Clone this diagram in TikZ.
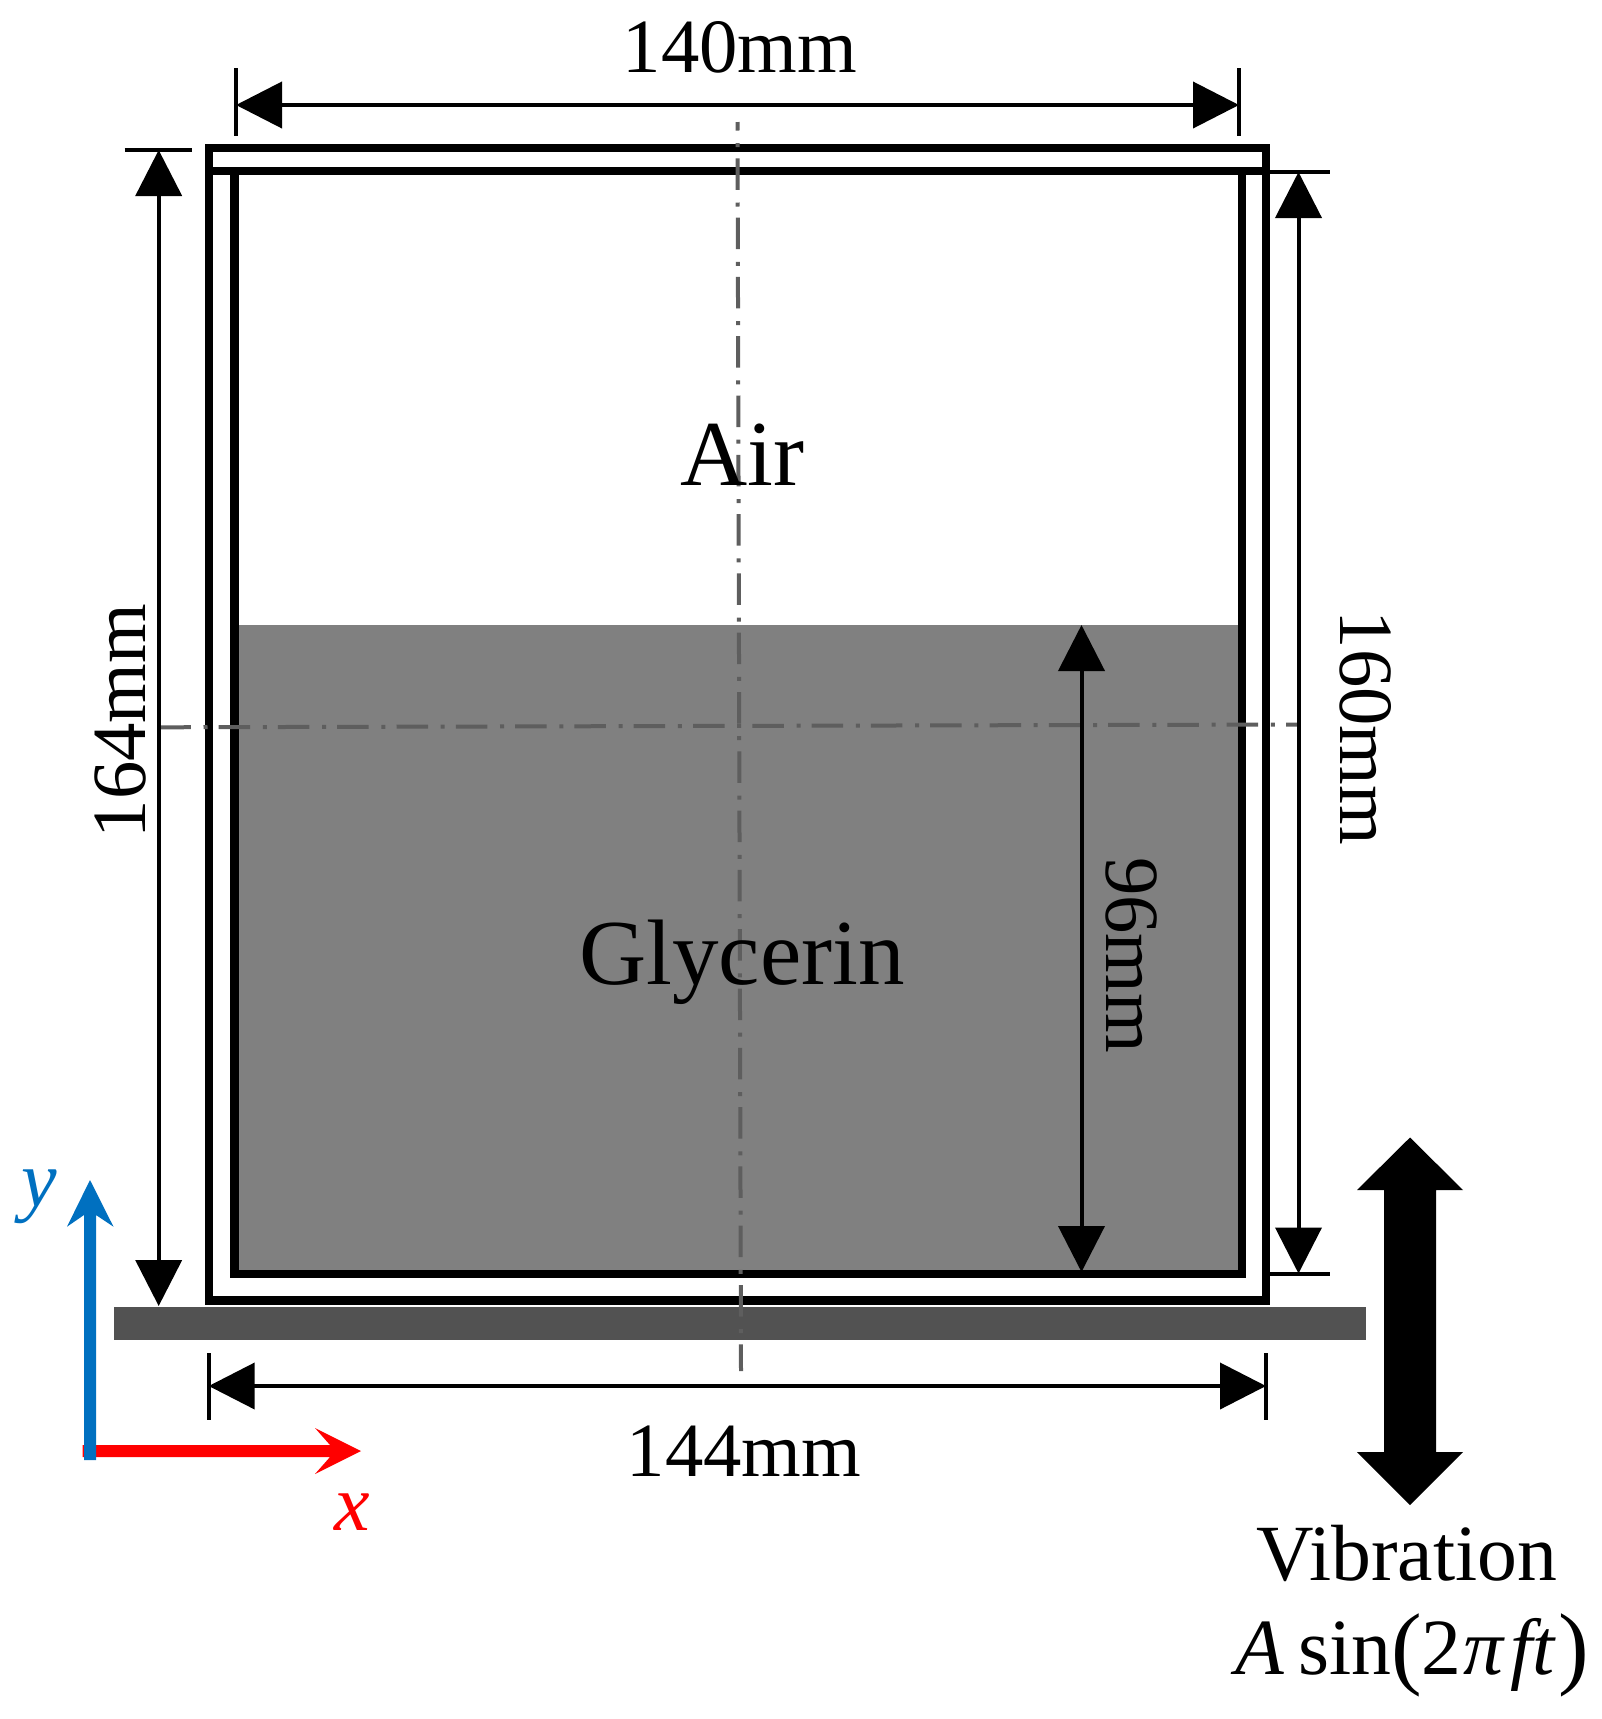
\documentclass[tikz,border=0pt]{standalone}
\usepackage{fontspec}
\setmainfont{Liberation Serif}
\usetikzlibrary{arrows.meta}
\definecolor{axisblue}{HTML}{0070C0}
\definecolor{centerline}{HTML}{5E5E5E}
\definecolor{fluid}{HTML}{808080}
\definecolor{plate}{HTML}{525252}
\newcommand{\bigparen}[1]{\raisebox{-3pt}{\fontsize{92}{96}\selectfont #1}}
\tikzset{
  wall/.style={draw=black,line width=8.4pt,fill=none,line join=miter},
  dimline/.style={draw=black,line width=4pt,{Triangle[length=46pt,width=46pt]}-{Triangle[length=46pt,width=46pt]}},
  tick/.style={draw=black,line width=4pt},
  axisline/.style={draw=centerline,line width=4pt,dash pattern=on 31.5pt off 12.7pt on 4pt off 11.1pt},
  lab/.style={inner sep=0pt,outer sep=0pt,anchor=base,font=\fontsize{76.7}{80}\selectfont},
  big/.style={lab,font=\fontsize{93}{98}\selectfont},
  vib/.style={lab,font=\fontsize{79.7}{84}\selectfont},
  coordlab/.style={lab,font=\fontsize{80}{84}\selectfont},
}
\begin{document}
\begin{tikzpicture}[x=1pt,y=-1pt]
\useasboundingbox (0,0) rectangle (1602,1719);
% fluid and plate
\fill[fluid] (238,625) rectangle (1238,1270);
\fill[plate] (113.5,1307) rectangle (1365.5,1340);
% walls
\draw[wall] (209,148) rectangle (1266,1300.5);
\draw[wall] (234.5,171) rectangle (1241.7,1274);
\draw[wall] (209,171) -- (1266,171);
% centre lines
\coordinate (vt) at (737.5,122);
\coordinate (vb) at (741,1371);
\coordinate (hl) at (159.3,727.3);
\coordinate (hr) at (1299,724.5);
\draw[axisline,dash phase=23pt] (vt) -- (vb);
\draw[axisline] (hl) -- (hr);
% dimension coordinates
\coordinate (ttl) at (236,105);
\coordinate (ttr) at (1239,105);
\coordinate (ltop) at (158.7,150);
\coordinate (lbot) at (158.7,1306);
\coordinate (rtop) at (1298.5,172);
\coordinate (rbot) at (1298.5,1273.5);
\coordinate (gtop) at (1081.5,625);
\coordinate (gbot) at (1081.5,1272);
\coordinate (bl) at (208.7,1386);
\coordinate (br) at (1266,1386);
\draw[tick] (236,68) -- (236,135.5);
\draw[tick] (1239,68) -- (1239,135.5);
\draw[tick] (124.7,150) -- (191.7,150);
\draw[tick] (1270,172) -- (1329.5,172);
\draw[tick] (1270,1273.5) -- (1330,1273.5);
\draw[tick] (208.7,1353) -- (208.7,1420);
\draw[tick] (1266,1353) -- (1266,1420);
\draw[dimline] (ttl) -- (ttr);
\draw[dimline] (ltop) -- (lbot);
\draw[dimline] (rtop) -- (rbot);
\draw[dimline] (gtop) -- (gbot);
\draw[dimline] (bl) -- (br);
% vibration arrow
\fill[black] (1410,1137.5) -- (1463,1190) -- (1436,1190) -- (1436,1452) -- (1463,1452) -- (1410,1505) -- (1357,1452) -- (1384,1452) -- (1384,1190) -- (1357,1190) -- cycle;
% axes
\fill[red] (82.5,1445) -- (330,1445) -- (315,1428) -- (361,1451) -- (315,1474) -- (330,1457) -- (82.5,1457) -- cycle;
\fill[axisblue] (84,1460) -- (84,1215) -- (67,1226.7) -- (90,1180) -- (113.5,1226.7) -- (96,1215) -- (96,1460) -- cycle;
% labels
\node[lab] (l140) at (740,72) {140mm};
\node[big] (lair) at (742,485) {Air};
\node[big] (lgly) at (742,984) {Glycerin};
\node[lab,rotate=90] (l164) at (145,721) {164mm};
\node[lab,rotate=-90] (l160) at (1340.5,728) {160mm};
\node[lab,rotate=-90] (l96) at (1106.5,955) {96mm};
\node[lab] (l144) at (744,1476) {144mm};
\node[vib] (lvib) at (1407,1580) {Vibration};
\node[vib] (lsin) at (1412,1674) {\textit{A}\hspace{14pt}sin\bigparen{(}2\hspace{2pt}\textit{π}\hspace{5pt}\textit{ft}\hspace{2pt}\bigparen{)}};
\node[coordlab,text=red] (lx) at (352,1530) {\textit{x}};
\node[coordlab,text=axisblue] (ly) at (39,1206) {\textit{y}};
\end{tikzpicture}
\end{document}
